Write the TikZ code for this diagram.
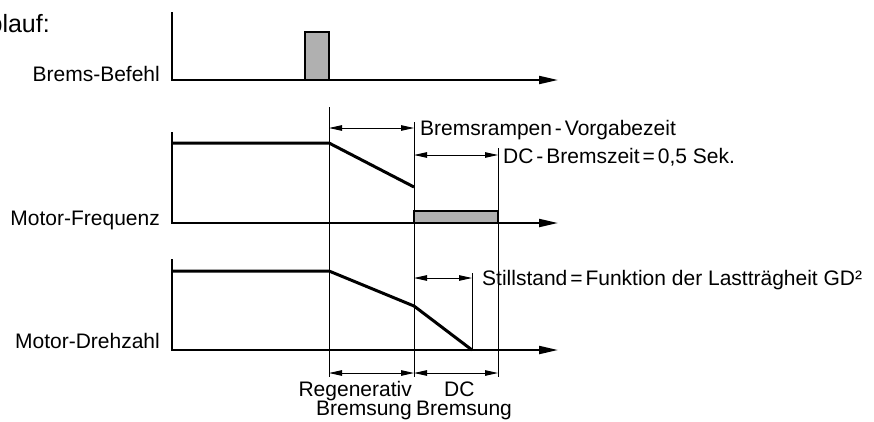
\documentclass[tikz,border=0pt]{standalone}
\usepackage{fontspec}
\setmainfont{Liberation Sans}
\usetikzlibrary{arrows.meta}
\definecolor{boxgray}{gray}{0.69}
\newcommand{\nsp}{\hspace{0.14em}}
\begin{document}
\begin{tikzpicture}[x=1pt,y=-1pt,
  axisarrow/.style={line width=2pt,-{Triangle[length=19pt,width=8pt]}},
  signal/.style={line width=3pt,line join=round},
  guide/.style={line width=0.9pt},
  dim/.style={line width=0.9pt,{Triangle[length=13pt,width=5.5pt]}-{Triangle[length=13pt,width=5.5pt]}},
  lbl/.style={font=\fontsize{21}{24}\selectfont, inner sep=0pt},
  box/.style={draw,line width=2pt,fill=boxgray}]
\useasboundingbox (0,0) rectangle (874,421);

% title (cut off at the left edge, as in the reference)
\node[font=\fontsize{25}{30}\selectfont, inner sep=0pt, anchor=base east] (title) at (50,32) {ablauf:};

% coordinates
\coordinate (t1) at (172,12);  \coordinate (o1) at (172,80);  \coordinate (e1) at (558,80);
\coordinate (t2) at (172,132); \coordinate (o2) at (172,223); \coordinate (e2) at (558,223);
\coordinate (t3) at (172,259); \coordinate (o3) at (172,350); \coordinate (e3) at (558,350);

\coordinate (gA) at (329,107); \coordinate (gAb) at (329,377);
\coordinate (gB) at (414,122); \coordinate (gBb) at (414,377);
\coordinate (gC) at (498,148); \coordinate (gCb) at (498,377);
\coordinate (gD) at (472,273); \coordinate (gDb) at (472,350);

% guide lines
\draw[guide] (gA) -- (gAb);
\draw[guide] (gB) -- (gBb);
\draw[guide] (gC) -- (gCb);
\draw[guide] (gD) -- (gDb);

% top chart: brake command pulse
\draw[box] (305,32) rectangle (329,80);
\draw[axisarrow] (t1) -- (o1) -- (e1);

% middle chart: motor frequency
\draw[box] (414,211) rectangle (498,223);
\draw[axisarrow] (t2) -- (o2) -- (e2);
\coordinate (f1) at (172,143); \coordinate (f2) at (329,143); \coordinate (f3) at (414,187);
\draw[signal] (f1) -- (f2) -- (f3);

% bottom chart: motor speed
\draw[axisarrow] (t3) -- (o3) -- (e3);
\coordinate (s1) at (172,271); \coordinate (s2) at (329,271); \coordinate (s3) at (414,306); \coordinate (s4) at (472,350);
\draw[signal] (s1) -- (s2) -- (s3) -- (s4);

% dimension arrows
\coordinate (d1a) at (329,128); \coordinate (d1b) at (414,128);
\coordinate (d2a) at (414,155); \coordinate (d2b) at (498,155);
\coordinate (d3a) at (414,278); \coordinate (d3b) at (472,278);
\coordinate (d4a) at (329,373); \coordinate (d4b) at (414,373);
\coordinate (d5a) at (414,373); \coordinate (d5b) at (498,373);
\draw[dim] (d1a) -- (d1b);
\draw[dim] (d2a) -- (d2b);
\draw[dim] (d3a) -- (d3b);
\draw[dim] (d4a) -- (d4b);
\draw[dim] (d5a) -- (d5b);

% axis labels
\node[lbl, anchor=base east] (l1) at (160,81) {Brems-Befehl};
\node[lbl, anchor=base east] (l2) at (160,225) {Motor-Frequenz};
\node[lbl, anchor=base east] (l3) at (160,348) {Motor-Drehzahl};

% annotations
\node[lbl, anchor=base west] (a1) at (420,135) {Bremsrampen\nsp-\nsp Vorgabezeit};
\node[lbl, anchor=base west] (a2) at (503,163) {DC\nsp-\nsp Bremszeit\nsp=\nsp 0,5 Sek.};
\node[lbl, anchor=base west] (a3) at (482,285) {Stillstand\nsp=\nsp Funktion der Lastträgheit GD²};

% bottom labels
\node[lbl, anchor=base east] (r1) at (412,396) {Regenerativ};
\node[lbl, anchor=base east] (r2) at (412,415) {Bremsung};
\node[lbl, anchor=base west] (c1) at (444,396) {DC};
\node[lbl, anchor=base west] (c2) at (416,415) {Bremsung};
\end{tikzpicture}
\end{document}
